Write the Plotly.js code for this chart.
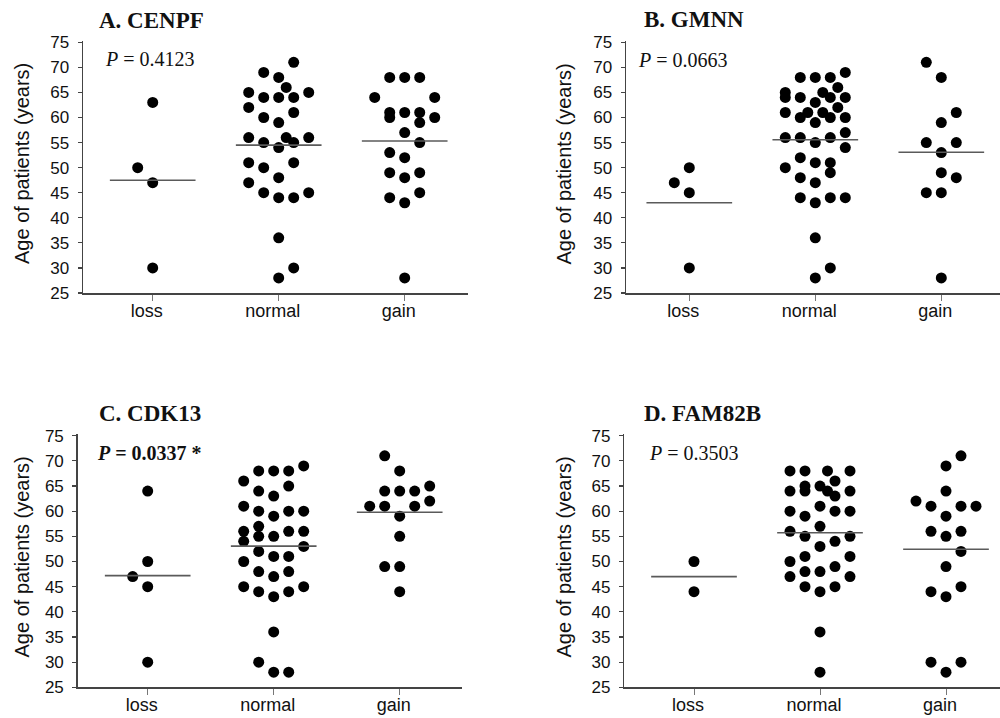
<!DOCTYPE html>
<html>
<head>
<meta charset="utf-8">
<script src="https://cdn.plot.ly/plotly-3.0.1.min.js"></script>
<style>html,body{margin:0;padding:0;background:#fff;}#chart{width:1000px;height:718px;}</style>
</head>
<body>
<div id="chart"></div>
<script>
// ---------- data ----------
const categories = ['loss', 'normal', 'gain'];
const yTicks = [25, 30, 35, 40, 45, 50, 55, 60, 65, 70, 75];
const panelTitles = ['A. CENPF', 'B. GMNN', 'C. CDK13', 'D. FAM82B'];
const pValues = ['0.4123', '0.0663', '0.0337', '0.3503'];
const pSignificant = [false, false, true, false];

// Panel A: CENPF
const A_loss = [63, 50, 47, 30];
const A_loss_slot = [0, -1, 0, 0];
const A_normal = [71, 69, 68, 66, 65, 65, 64, 64, 64, 62, 61, 60, 59, 56, 56, 56, 55, 55, 54, 51, 51, 50, 48, 47, 45, 45, 44, 44, 36, 30, 28];
const A_normal_slot = [1, -1, 0, 0.5, -2, 2, -1, 0, 1, -2, 1, -1, 0, -2, 0.5, 2, -1, 1, 0, -2, 1, -1, 0, -2, -1, 2, 0, 1, 0, 1, 0];
const A_gain = [68, 68, 68, 64, 64, 61, 61, 61, 60, 60, 59, 57, 55, 53, 52, 49, 49, 48, 45, 44, 43, 28];
const A_gain_slot = [-1, 0, 1, -2, 2, -1, 0, 1, -1, 2, 1, 0, 1, -1, 0, -1, 1, 0, 1, -1, 0, 0];

// Panel B: GMNN
const B_loss = [50, 47, 45, 30];
const B_loss_slot = [0, -1, 0, 0];
const B_normal = [69, 68, 68, 68, 66, 65, 65, 64, 64, 64, 64, 63, 62, 61, 61, 61, 60, 60, 60, 59, 57, 56, 56, 56, 55, 54, 52, 51, 51, 50, 49, 48, 47, 44, 44, 44, 43, 36, 30, 28];
const B_normal_slot = [2, -1, 0, 1, 1.5, -2, 0.5, -2, -1, 1, 2, 0, 1.5, -2, -0.5, 0.5, -1, 1, 2, 0, 2, -2, -1, 1, 0, 2, -1, 0, 1, -2, 1, -1, 0, -1, 1, 2, 0, 0, 1, 0];
const B_gain = [71, 68, 61, 59, 55, 55, 53, 49, 48, 45, 45, 28];
const B_gain_slot = [-1, 0, 1, 0, -1, 1, 0, 0, 1, -1, 0, 0];

// Panel C: CDK13
const C_loss = [64, 50, 47, 45, 30];
const C_loss_slot = [0, 0, -1, 0, 0];
const C_normal = [69, 68, 68, 68, 66, 65, 64, 63, 61, 60, 60, 60, 59, 57, 56, 56, 56, 55, 55, 54, 53, 52, 51, 51, 50, 48, 48, 47, 45, 45, 44, 44, 43, 36, 30, 28, 28];
const C_normal_slot = [2, -1, 0, 1, -2, 1, -1, 0, -2, -1, 1, 2, 0, -1, -2, 1, 2, -1, 0, -2, 2, -1, 0, 1, -2, -1, 1, 0, -2, 2, -1, 1, 0, 0, -1, 0, 1];
const C_gain = [71, 68, 65, 64, 64, 64, 62, 61, 61, 61, 59, 55, 49, 49, 44];
const C_gain_slot = [-1, 0, 2, -1, 0, 1, 2, -2, -1, 1, 0, 0, -1, 0, 0];

// Panel D: FAM82B
const D_loss = [50, 44];
const D_loss_slot = [0, 0];
const D_normal = [68, 68, 68, 68, 66, 65, 65, 64, 64, 64, 64, 63, 61, 60, 60, 60, 59, 57, 56, 55, 55, 54, 53, 51, 51, 50, 49, 48, 48, 47, 47, 45, 45, 44, 36, 28];
const D_normal_slot = [-2, -1, 0.5, 2, 1, -1, 0, -2, -1, 0.5, 2, 1, 0, -2, 1, 2, -1, 0, -2, -1, 2, 1, 0, -1, 2, -2, 1, -1, 0, -2, 2, -1, 1, 0, 0, 0];
const D_gain = [71, 69, 64, 62, 61, 61, 61, 59, 56, 56, 55, 52, 49, 45, 44, 43, 30, 30, 28];
const D_gain_slot = [1, 0, 0, -2, -1, 1, 2, 0, -1, 1, 0, 1, 0, 1, -1, 0, -1, 1, 0];

const panelGroups = [
  [[A_loss, A_loss_slot], [A_normal, A_normal_slot], [A_gain, A_gain_slot]],
  [[B_loss, B_loss_slot], [B_normal, B_normal_slot], [B_gain, B_gain_slot]],
  [[C_loss, C_loss_slot], [C_normal, C_normal_slot], [C_gain, C_gain_slot]],
  [[D_loss, D_loss_slot], [D_normal, D_normal_slot], [D_gain, D_gain_slot]]
];

// ---------- layout geometry (pixels in the 1000x718 page) ----------
const W = 1000, H = 718;
const geom = [
  {xl: 83,    xr: 468,   c0: 152.7, y75: 42.3,  y25: 293.0, ttlX: 97,    ttlY: 20,  pX: 103,   pY: 59,  yt: 22,    ytY: 164},
  {xl: 626,   xr: 999.5, c0: 689.3, y75: 42.3,  y25: 293.0, ttlX: 641.7, ttlY: 19,  pX: 636,   pY: 60,  yt: 563.5, ytY: 164},
  {xl: 77.7,  xr: 461.7, c0: 147.7, y75: 435.7, y25: 687.3, ttlX: 96.7,  ttlY: 413, pX: 95,    pY: 453, yt: 21,    ytY: 557.5},
  {xl: 624.3, xr: 999.5, c0: 694.0, y75: 435.7, y25: 687.3, ttlX: 641.7, ttlY: 413, pX: 646.7, pY: 453, yt: 563.5, ytY: 557}
];
const catPx = 126;          // pixels between categories
const dotStep = 15 / catPx; // horizontal spacing of side-by-side dots
const meanHalf = 0.34;      // half length of mean line
const yTop = 75.3, yBot = 25;

const traces = [];
const shapes = [];
const annotations = [];
const layout = {
  width: W, height: H,
  margin: {l: 0, r: 0, t: 0, b: 0},
  paper_bgcolor: '#fff', plot_bgcolor: 'rgba(0,0,0,0)',
  showlegend: false,
  font: {family: 'Liberation Sans, Arial, sans-serif', color: '#111'}
};

const mean = a => a.reduce((s, v) => s + v, 0) / a.length;

geom.forEach((g, p) => {
  const ax = p === 0 ? '' : String(p + 1);
  const xa = 'x' + ax, ya = 'y' + ax;
  const scale = (g.y25 - g.y75) / 50;
  const topPx = g.y75 - (yTop - 75) * scale;
  layout['xaxis' + ax] = {
    domain: [g.xl / W, g.xr / W],
    range: [(g.xl - g.c0) / catPx, (g.xr - g.c0) / catPx],
    anchor: ya,
    tickmode: 'array', tickvals: [0, 1, 2], ticktext: categories,
    ticks: 'outside', ticklen: 6, tickwidth: 1, tickcolor: '#777',
    showline: true, linecolor: '#444', linewidth: 1.5,
    showgrid: false, zeroline: false, fixedrange: true,
    tickfont: {size: 18, family: 'Liberation Sans, Arial, sans-serif', color: '#111'},
    ticklabelshift: -6, ticklabelstandoff: -5
  };
  layout['yaxis' + ax] = {
    domain: [1 - g.y25 / H, 1 - topPx / H],
    range: [yBot, yTop],
    anchor: xa,
    tickmode: 'array', tickvals: yTicks,
    ticks: 'outside', ticklen: 4, tickwidth: 1.2, tickcolor: '#444',
    showline: true, linecolor: '#444', linewidth: 1.5,
    showgrid: false, zeroline: false, fixedrange: true,
    tickfont: {size: 17, family: 'Liberation Sans, Arial, sans-serif', color: '#111'},
    ticklabelstandoff: 5
  };

  panelGroups[p].forEach((grp, ci) => {
    const vals = grp[0], slots = grp[1];
    traces.push({
      type: 'scatter', mode: 'markers',
      x: slots.map(s => ci + s * dotStep), y: vals,
      xaxis: xa, yaxis: ya,
      marker: {size: 11, color: '#000', line: {width: 0}},
      hoverinfo: 'y', cliponaxis: false
    });
    const m = mean(vals);
    shapes.push({
      type: 'line', xref: xa, yref: ya,
      x0: ci - meanHalf, x1: ci + meanHalf, y0: m, y1: m,
      line: {color: '#5a5a5a', width: 1.6}
    });
  });

  annotations.push({
    xref: 'paper', yref: 'paper', x: g.ttlX / W, y: 1 - g.ttlY / H,
    xanchor: 'left', yanchor: 'middle', showarrow: false,
    text: '<b>' + panelTitles[p] + '</b>',
    font: {family: 'Liberation Serif, Times New Roman, serif', size: 23, color: '#111'}
  });
  const pTxt = '<i>P</i> = ' + pValues[p] + (pSignificant[p] ? ' *' : '');
  annotations.push({
    xref: 'paper', yref: 'paper', x: g.pX / W, y: 1 - g.pY / H,
    xanchor: 'left', yanchor: 'middle', showarrow: false,
    text: pSignificant[p] ? '<b>' + pTxt + '</b>' : pTxt,
    font: {family: 'Liberation Serif, Times New Roman, serif', size: 20, color: '#111'}
  });
  annotations.push({
    xref: 'paper', yref: 'paper', x: g.yt / W, y: 1 - g.ytY / H,
    xanchor: 'center', yanchor: 'middle', showarrow: false, textangle: -90,
    text: 'Age of patients (years)',
    font: {family: 'Liberation Sans, Arial, sans-serif', size: 20, color: '#111'}
  });
});

layout.shapes = shapes;
layout.annotations = annotations;

Plotly.newPlot('chart', traces, layout, {displayModeBar: false, staticPlot: true});
</script>
</body>
</html>
